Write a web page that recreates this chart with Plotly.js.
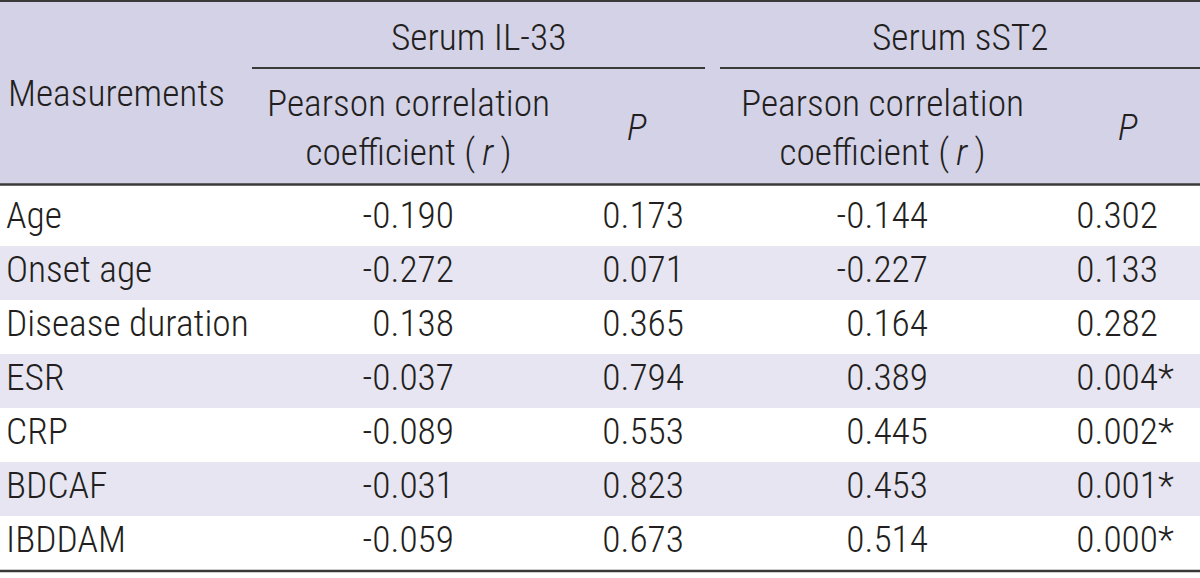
<!DOCTYPE html>
<html>
<head>
<meta charset="utf-8">
<script src="https://cdn.plot.ly/plotly-3.0.1.min.js"></script>
<style>
  html, body { margin: 0; padding: 0; background: #ffffff; }
  #chart { width: 1200px; height: 578px; }
</style>
</head>
<body>
<div id="chart"></div>
<script>
// ---- Data ----
const measurements = ["Age", "Onset age", "Disease duration", "ESR", "CRP", "BDCAF", "IBDDAM"];
const il33R = [-0.190, -0.272, 0.138, -0.037, -0.089, -0.031, -0.059];
const il33P = [0.173, 0.071, 0.365, 0.794, 0.553, 0.823, 0.673];
const sst2R = [-0.144, -0.227, 0.164, 0.389, 0.445, 0.453, 0.514];
const sst2P = [0.302, 0.133, 0.282, 0.004, 0.002, 0.001, 0.000];
const sst2Sig = [false, false, false, true, true, true, true];
const groupHeaders = ["Serum IL-33", "Serum sST2"];
const rowHeader = "Measurements";
const subHeaderR = "Pearson correlation<br>coefficient (\u2009<i>r</i>\u2009)";
const subHeaderP = "<i>P</i>";

// ---- Font detection: pick an installed condensed face, size to match the reference width ----
function measure(family, txt) {
  const c = document.createElement("canvas").getContext("2d");
  c.font = "300 100px " + family;
  return c.measureText(txt).width;
}
function installed(name) {
  const probe = "Measurements 0.123 mmmwwwlli";
  return ["monospace", "serif"].some(b => measure("'" + name + "', " + b, probe) !== measure(b, probe));
}
const candidates = ["Roboto Condensed", "Liberation Sans Narrow", "Arial Narrow", "Nimbus Sans Narrow",
                    "DejaVu Sans Condensed", "Liberation Sans"];
let FAMILY = candidates.find(installed) || "sans-serif";
const targetWidth = 217; // approx. width of "Measurements" in the reference (compromise with digit widths)
let FS = Math.min(39, 100 * targetWidth / measure("'" + FAMILY + "'", rowHeader));

// ---- Layout constants (pixel-like coordinate system) ----
const W = 1200, H = 578;
const TXT = "#231f20";
const LINE = "#3a3a3a";
const HEAD_BG = "#d3d2e7";
const ROW_BG = "#e6e5f1";
const bodyTop = 192, rowH = 54;
const labelX = 6;
const colRight = [454, 684, 928, 1158];
const subCenters = [408, 637, 882, 1128];
const groupSpans = [[252, 705], [720, 1200]];

const rowY = measurements.map((_, i) => bodyTop + (i + 0.5) * rowH);
const fmt = v => v.toFixed(3);
const font = {family: "'" + FAMILY + "', sans-serif", size: FS, color: TXT, weight: 300};

function textTrace(xs, ys, texts, pos) {
  return {
    type: "scatter", mode: "text", x: xs, y: ys, text: texts,
    textposition: pos, textfont: font, hoverinfo: "skip", showlegend: false,
    cliponaxis: false
  };
}

const traces = [
  textTrace(measurements.map(() => labelX), rowY, measurements, "middle right"),
  textTrace(il33R.map(() => colRight[0]), rowY, il33R.map(fmt), "middle left"),
  textTrace(il33P.map(() => colRight[1]), rowY, il33P.map(fmt), "middle left"),
  textTrace(sst2R.map(() => colRight[2]), rowY, sst2R.map(fmt), "middle left"),
  textTrace(sst2P.map(() => colRight[3]), rowY, sst2P.map(fmt), "middle left"),
  textTrace(sst2Sig.map(() => colRight[3]), rowY, sst2Sig.map(s => s ? "*" : ""), "middle right")
];

const shapes = [];
shapes.push({type: "rect", xref: "x", yref: "y", x0: 0, x1: W, y0: 2, y1: 184,
  fillcolor: HEAD_BG, line: {width: 0}, layer: "below"});
measurements.forEach((m, i) => {
  if (i % 2 === 1) {
    shapes.push({type: "rect", xref: "x", yref: "y", x0: 0, x1: W,
      y0: bodyTop + i * rowH, y1: bodyTop + (i + 1) * rowH,
      fillcolor: ROW_BG, line: {width: 0}, layer: "below"});
  }
});
const hline = (x0, x1, y, w) => ({type: "line", xref: "x", yref: "y", x0, x1, y0: y, y1: y,
  line: {color: LINE, width: w}});
shapes.push(hline(0, W, 1, 2));
groupSpans.forEach(s => shapes.push(hline(s[0], s[1], 68, 2)));
shapes.push(hline(0, W, 184.5, 2.5));
shapes.push(hline(0, W, bodyTop + measurements.length * rowH + 1, 2.5));

const annotations = [];
const ann = (text, x, y, xanchor) => ({text, x, y, xref: "x", yref: "y", xanchor,
  yanchor: "middle", showarrow: false, font: font, align: "center"});
annotations.push(ann(rowHeader, labelX, 93, "left"));
groupHeaders.forEach((g, k) => annotations.push(ann(g, (groupSpans[k][0] + groupSpans[k][1]) / 2, 37, "center")));
[subHeaderR, subHeaderP, subHeaderR, subHeaderP].forEach((t, k) =>
  annotations.push(ann(t, subCenters[k], 127, "center")));

const layout = {
  width: W, height: H,
  margin: {l: 0, r: 0, t: 0, b: 0, pad: 0},
  paper_bgcolor: "#ffffff", plot_bgcolor: "#ffffff",
  xaxis: {range: [0, W], visible: false, fixedrange: true},
  yaxis: {range: [H, 0], visible: false, fixedrange: true},
  shapes, annotations, showlegend: false
};

Plotly.newPlot("chart", traces, layout, {displayModeBar: false, staticPlot: true});
</script>
</body>
</html>
